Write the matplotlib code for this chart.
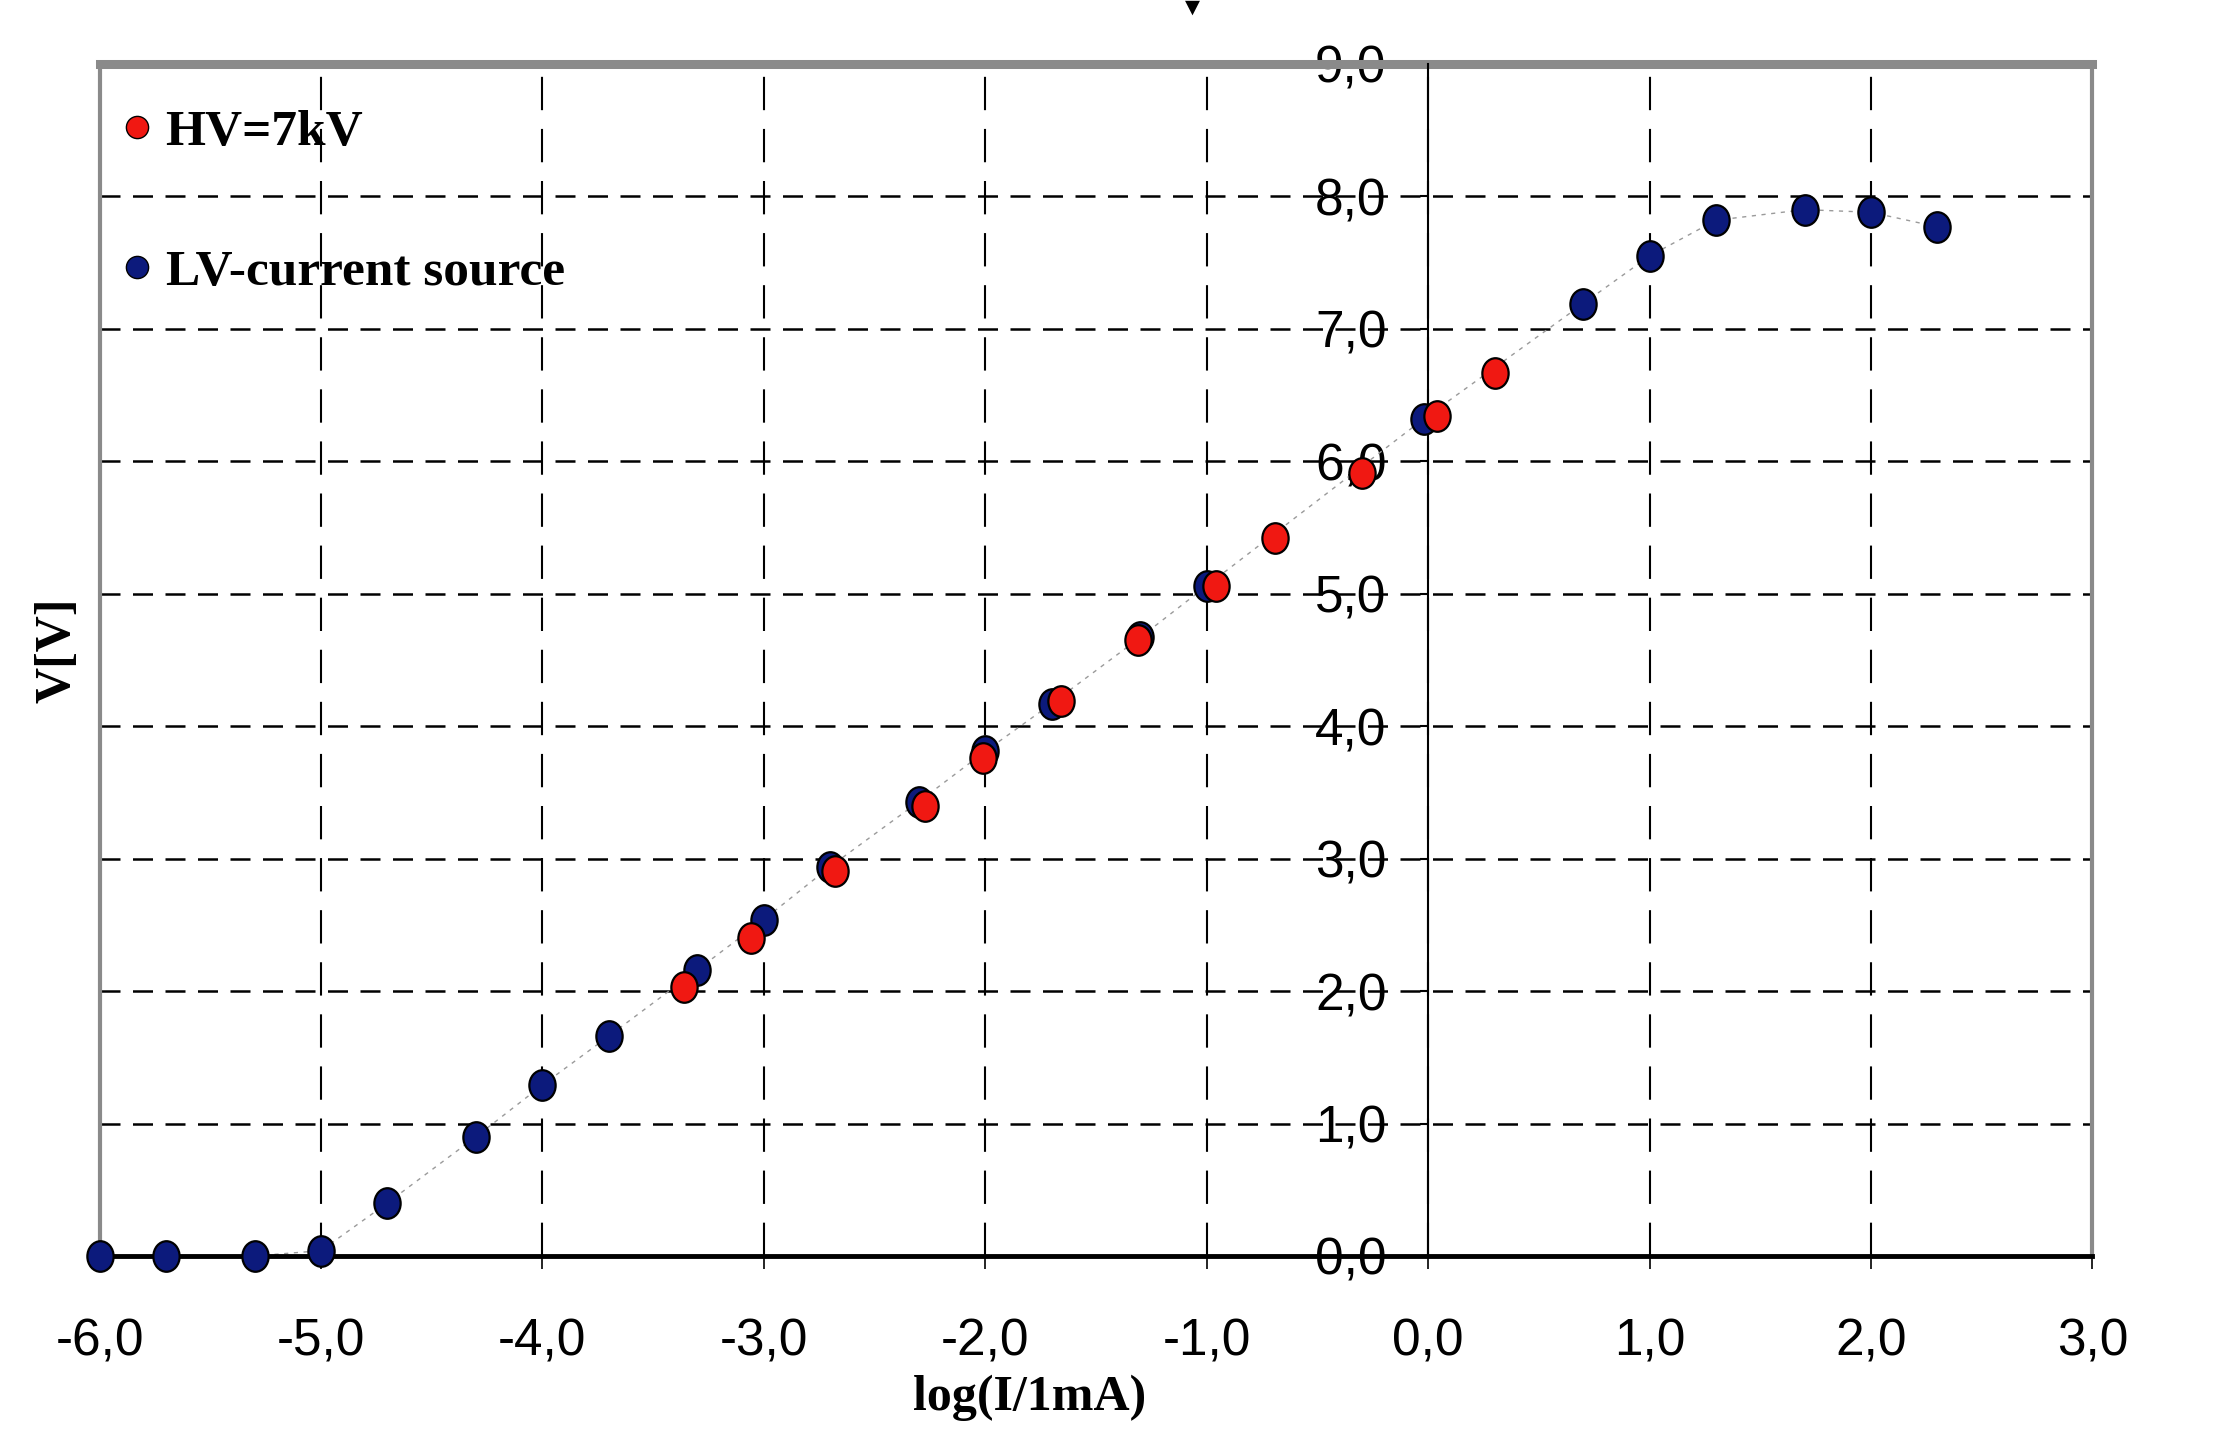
import matplotlib
matplotlib.use("Agg")
import matplotlib.pyplot as plt
from matplotlib.lines import Line2D
from matplotlib.path import Path
from matplotlib.transforms import Affine2D

# LV-current source (blue)
lv_logi = [-6.0, -5.7, -5.3, -5.0, -4.7, -4.3, -4.0, -3.7, -3.3, -3.0, -2.7,
           -2.3, -2.0, -1.7, -1.3, -1.0, -0.02, 0.7, 1.0, 1.3, 1.7, 2.0, 2.3]
lv_volt = [0.0, 0.0, 0.0, 0.04, 0.40, 0.90, 1.29, 1.66, 2.16, 2.54, 2.94,
           3.43, 3.81, 4.17, 4.67, 5.06, 6.32, 7.19, 7.55, 7.82, 7.90, 7.88, 7.77]

# HV=7kV (red)
hv_logi = [-3.36, -3.06, -2.68, -2.27, -2.01, -1.66, -1.31, -0.96, -0.69,
           -0.30, 0.04, 0.30]
hv_volt = [2.03, 2.40, 2.91, 3.40, 3.76, 4.19, 4.65, 5.06, 5.42, 5.91, 6.34, 6.67]

x_ticks = [-6, -5, -4, -3, -2, -1, 0, 1, 2, 3]
x_labels = ["-6,0", "-5,0", "-4,0", "-3,0", "-2,0", "-1,0", "0,0", "1,0", "2,0", "3,0"]
y_ticks = [0, 1, 2, 3, 4, 5, 6, 7, 8, 9]
y_labels = ["0,0", "1,0", "2,0", "3,0", "4,0", "5,0", "6,0", "7,0", "8,0", "9,0"]

red = "#f01812"
blue = "#0c1a7c"
gray = "#8a8a8a"
tick_font = ["Liberation Sans", "DejaVu Sans"]
serif = ["Liberation Serif", "DejaVu Serif"]

# slightly tall ellipse like the original markers
dot = Path.unit_circle().transformed(Affine2D().scale(0.86, 1.0))

fig = plt.figure(figsize=(22.26, 14.4), dpi=100)
ax = fig.add_axes([0.0447, 0.1278, 0.8953, 0.8278])

# y axis sits at log(I)=0; do this first, it resets the ticks
ax.spines["left"].set_position(("data", 0))

ax.set_xlim(-6, 3)
ax.set_ylim(0, 9)

# trend line through LV points
ax.plot(lv_logi, lv_volt, color="#9a9a9a", lw=1.0, ls=(0, (3, 4)), zorder=2)
ax.plot(lv_logi, lv_volt, ls="none", marker=dot, ms=22, mfc=blue, mec="black",
        mew=1.6, zorder=4, clip_on=False)
ax.plot(hv_logi, hv_volt, ls="none", marker=dot, ms=22, mfc=red, mec="black",
        mew=1.6, zorder=5, clip_on=False)

# grid
ax.set_xticks(x_ticks)
ax.set_yticks(y_ticks)
ax.xaxis.grid(True, color="black", lw=1.5, ls=(0, (16, 9)))
ax.yaxis.grid(True, color="black", lw=1.8, ls=(0, (8, 5)))
ax.set_axisbelow(True)

ax.set_xticklabels(x_labels, family=tick_font, fontsize=37)
ax.set_yticklabels(y_labels, family=tick_font, fontsize=37)

# frame
ax.spines["left"].set_color("black")
ax.spines["left"].set_linewidth(1.5)
ax.spines["left"].set_zorder(3)
ax.spines["top"].set_color(gray)
ax.spines["top"].set_linewidth(6.5)
ax.spines["right"].set_color(gray)
ax.spines["right"].set_linewidth(3)
ax.spines["bottom"].set_color("black")
ax.spines["bottom"].set_linewidth(3.5)
ax.plot([0, 0], [0, 1], transform=ax.transAxes, color=gray, lw=3,
        clip_on=False, zorder=3)

ax.tick_params(axis="y", direction="out", length=6, width=1.5, pad=24,
               right=False)
ax.tick_params(axis="x", direction="out", length=9, width=1.2, pad=35,
               top=False)

ax.set_xlabel("log(I/1mA)", family=serif, fontweight="bold", fontsize=36,
              va="center")
ax.xaxis.set_label_coords(0.4667, -0.119)
ax.set_ylabel("V[V]", family=serif, fontweight="bold", fontsize=36,
              va="center", ha="center")
ax.yaxis.set_label_coords(-0.021, 0.508)

handles = [
    Line2D([], [], ls="none", marker="o", ms=16, mfc=red, mec="black", mew=1),
    Line2D([], [], ls="none", marker="o", ms=16, mfc=blue, mec="black", mew=1),
]
ax.legend(handles, ["HV=7kV", "LV-current source"], loc="upper left",
          bbox_to_anchor=(0.0125, 0.962), borderaxespad=0, borderpad=0,
          frameon=False, handlelength=0.5, handletextpad=0.3,
          labelspacing=1.8,
          prop={"family": serif, "weight": "bold", "size": 37})

# cut-off arrow head at the top edge of the original
fig.text(1192 / 2226, 0.995, "\u25bc", fontsize=14, ha="center", va="center",
         color="black")

fig.savefig("out.png", dpi=100)
